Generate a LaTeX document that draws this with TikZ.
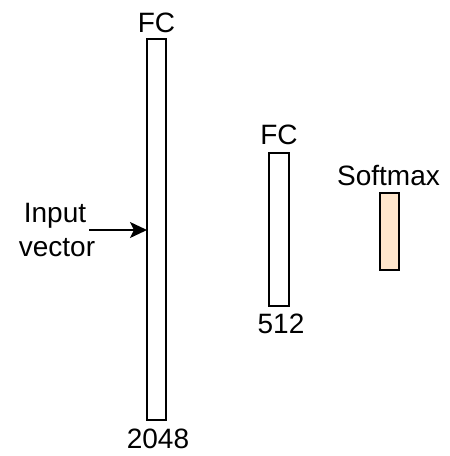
\documentclass[tikz,border=0pt]{standalone}
\usepackage{fontspec}
\setmainfont{Liberation Sans}
\usetikzlibrary{arrows.meta}
\definecolor{peach}{HTML}{FFE6CC}
\begin{document}
\begin{tikzpicture}[x=1pt,y=-1pt,
  layer/.style={draw=black,line width=1.4pt,inner sep=0pt,outer sep=0pt},
  lbl/.style={font=\fontsize{28}{33}\selectfont,inner sep=0pt,anchor=base},
  conn/.style={line width=1.4pt,-{Stealth[length=17pt,width=16pt,inset=4pt]}}]
\useasboundingbox (0,0) rectangle (450,456);
\node[layer,minimum width=19pt,minimum height=381pt] (fc1) at (156.5,229.5) {};
\node[layer,minimum width=20pt,minimum height=153pt] (fc2) at (279,229.5) {};
\node[layer,fill=peach,minimum width=19pt,minimum height=77pt] (sm) at (389.5,231.5) {};
\node[lbl] (fc1t) at (156.5,32) {FC};
\node[lbl] (fc1b) at (158,448) {2048};
\node[lbl] (fc2t) at (279,144) {FC};
\node[lbl] (fc2b) at (281,333) {512};
\node[lbl] (smt) at (388.5,185) {Softmax};
\node[lbl] (in1) at (55,222) {Input};
\node[lbl] (in2) at (57,256) {vector};
\coordinate (arrs) at (89,230);
\draw[conn] (arrs) -- (arrs -| fc1.west);
\end{tikzpicture}
\end{document}
